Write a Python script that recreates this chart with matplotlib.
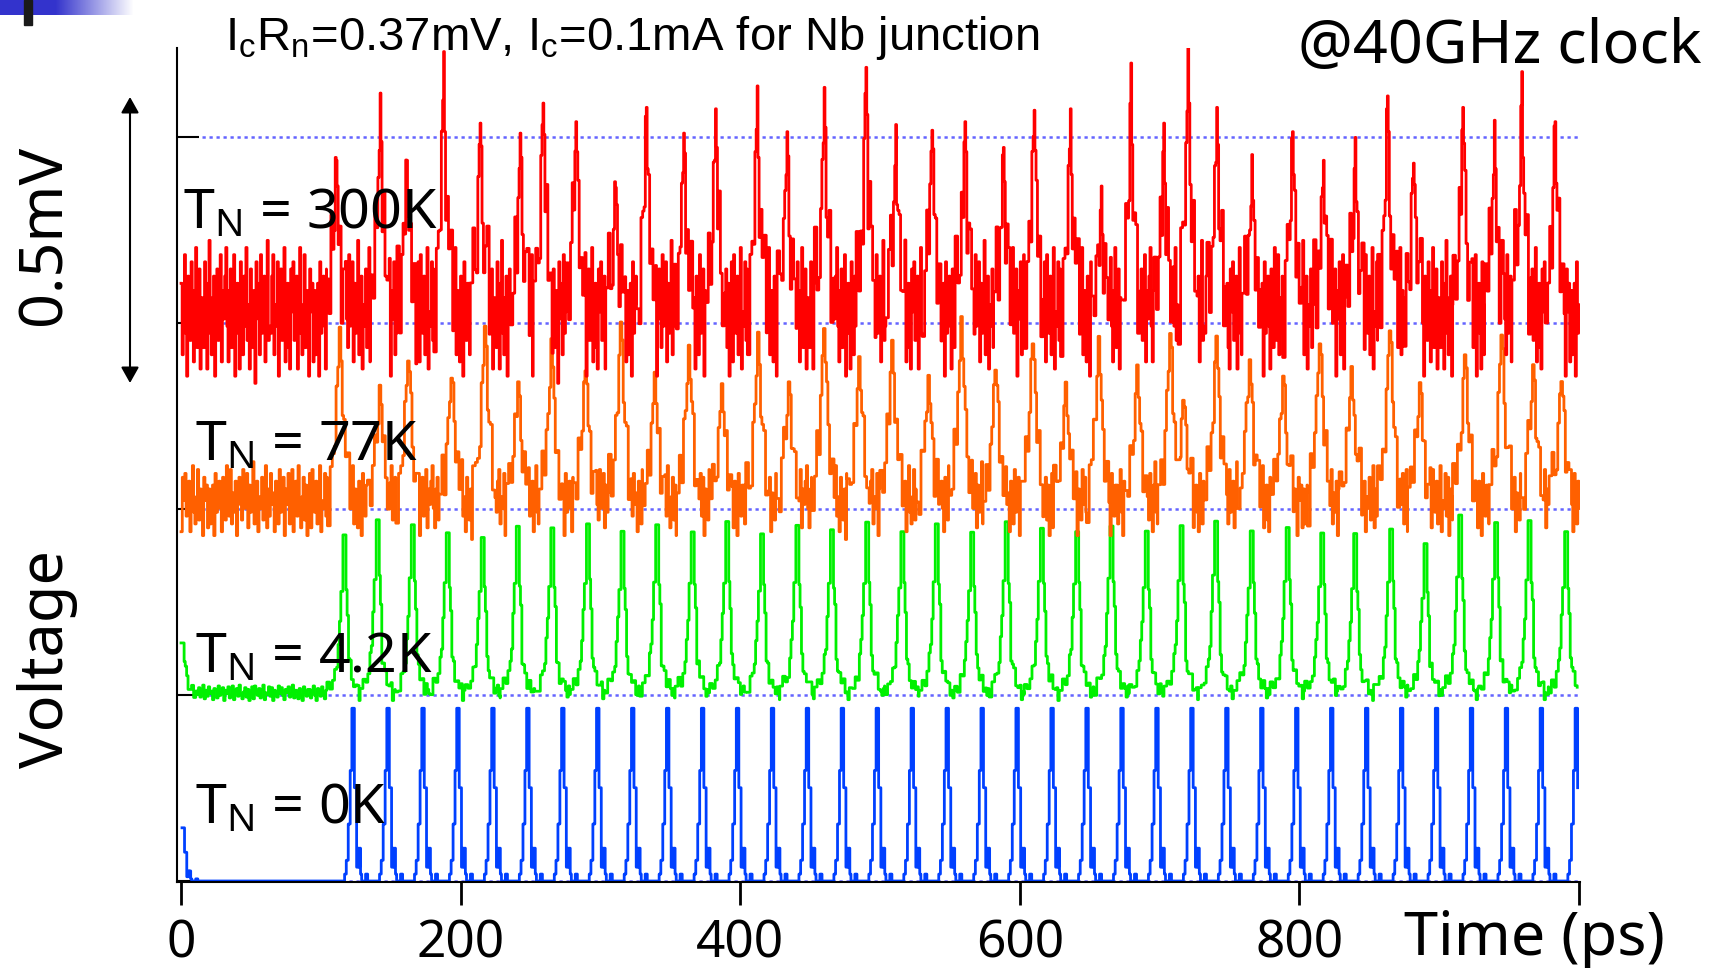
import numpy as np
import matplotlib.pyplot as plt
from matplotlib.patches import FancyArrowPatch, Rectangle

# 画像サイズ（ピクセル）
W, H = 1723, 968

# 各波形のベースライン（mV）
BASE_0K = 0.0
BASE_4K = 0.325
BASE_77K = 0.650
BASE_300K = 0.975
GRID_LEVELS = [0.0, 0.325, 0.650, 0.975, 1.300]

XTICKS = [0, 200, 400, 600, 800, 1000]
XTICK_LABELS = ['0', '200', '400', '600', '800', '']

# T_N = 0K（青）: パルスのピーク時刻(ps)と高さ(mV)
BLUE_PEAK_T = [1.5, 123, 148, 173, 198, 223, 248, 273, 298, 323, 348, 373, 398,
               423, 448, 473, 498, 523, 548, 573, 598, 623, 648, 673, 698, 723,
               748, 773, 798, 823, 848, 873, 898, 923, 948, 973, 998]
BLUE_PEAK_H = [0.093, 0.302, 0.302, 0.302, 0.302, 0.302, 0.302, 0.302, 0.302,
               0.302, 0.302, 0.302, 0.302, 0.302, 0.302, 0.302, 0.302, 0.302,
               0.302, 0.302, 0.302, 0.302, 0.302, 0.302, 0.302, 0.302, 0.302,
               0.302, 0.302, 0.302, 0.302, 0.302, 0.302, 0.302, 0.302, 0.302,
               0.302]
# パルス形状（ピークからの時間差 ps, 高さの割合）
BLUE_PULSE_DT = [-7.5, -6.0, -4.8, -3.4, -2.0, -0.8, 1.0, 2.6, 3.6, 4.2, 4.8, 5.4,
                 6.2, 9.0, 10.5]
BLUE_PULSE_FRAC = [0.0, 0.04, 0.12, 0.33, 0.64, 1.0, 0.54, 0.08, 0.19, 0.08, 0.19,
                   0.04, 0.0, 0.04, 0.0]

# T_N = 4.2K（緑）
GREEN_PEAK_T = [1.5, 117.3, 141.1, 166.2, 191.2, 216.2, 241.3, 266.0, 291.5, 316.2,
                341.0, 366.4, 391.1, 416.0, 441.3, 466.0, 491.2, 516.4, 541.0,
                566.3, 591.0, 616.2, 641.4, 666.0, 691.2, 716.1, 740.8, 766.3,
                792.0, 816.7, 840.3, 866.0, 890.6, 915.4, 941.1, 965.0, 991.2]
GREEN_PEAK_H = [0.090, 0.278, 0.305, 0.299, 0.285, 0.278, 0.294, 0.290, 0.300,
                0.284, 0.296, 0.288, 0.302, 0.281, 0.295, 0.290, 0.300, 0.286,
                0.297, 0.283, 0.301, 0.292, 0.287, 0.298, 0.284, 0.296, 0.305,
                0.287, 0.296, 0.284, 0.281, 0.293, 0.264, 0.313, 0.302, 0.303,
                0.284]
GREEN_PULSE_DT = [-13.0, -11.0, -9.0, -7.5, -6.0, -5.0, -4.0, -3.0, -1.5, 0.7, 1.5,
                  2.5, 3.5, 4.5, 6.0, 7.5, 9.0]
GREEN_PULSE_FRAC = [0.02, 0.05, 0.08, 0.12, 0.20, 0.30, 0.46, 0.66, 1.0, 0.66, 0.52,
                    0.20, 0.16, 0.10, 0.07, 0.04, 0.02]

# T_N = 77K（橙）
ORANGE_PEAK_T = [113.7, 142.3, 162.6, 193.6, 217.5, 241.3, 265.1, 289.5, 314.7,
                 339.0, 363.4, 387.0, 412.9, 434.9, 460.1, 485.2, 508.8, 534.8,
                 558.3, 582.7, 609.4, 633.0, 656.6, 684.1, 707.7, 717.0, 740.8,
                 764.6, 788.5, 814.7, 837.4, 864.8, 886.3, 918.5, 944.7, 967.3,
                 987.6]
ORANGE_PEAK_H = [0.31, 0.21, 0.27, 0.24, 0.32, 0.22, 0.29, 0.25, 0.33, 0.23, 0.28,
                 0.21, 0.30, 0.22, 0.32, 0.26, 0.29, 0.23, 0.33, 0.25, 0.30, 0.21,
                 0.29, 0.24, 0.31, 0.20, 0.30, 0.26, 0.23, 0.30, 0.24, 0.32, 0.22,
                 0.27, 0.31, 0.25, 0.23]
ORANGE_PULSE_DT = [-9.0, -7.0, -5.5, -4.0, -2.8, -1.6, -0.6, 0.6, 1.6, 2.6, 3.8, 5.2, 7.0]
ORANGE_PULSE_FRAC = [0.05, 0.14, 0.26, 0.40, 0.58, 0.80, 1.0, 0.85, 0.60, 0.42, 0.26,
                     0.14, 0.06]

# T_N = 300K（赤）
RED_PEAK_T = [111.0, 142.4, 161.4, 187.8, 213.9, 242.5, 258.9, 282.4, 310.8, 332.8,
              359.5, 382.3, 412.1, 433.4, 460.0, 489.9, 511.2, 537.1, 560.7,
              588.2, 610.2, 636.1, 658.2, 679.4, 702.9, 720.2, 740.8, 765.9,
              795.0, 817.1, 839.8, 862.9, 881.5, 916.8, 939.4, 959.0, 982.8]
RED_PEAK_H = [0.30, 0.39, 0.29, 0.46, 0.36, 0.32, 0.40, 0.36, 0.25, 0.38, 0.33,
              0.37, 0.40, 0.33, 0.41, 0.46, 0.33, 0.36, 0.36, 0.31, 0.39, 0.36,
              0.22, 0.43, 0.34, 0.48, 0.37, 0.28, 0.34, 0.28, 0.31, 0.40, 0.29,
              0.38, 0.34, 0.42, 0.36]
RED_PULSE_DT = [-7.0, -5.2, -3.8, -2.6, -1.6, -0.7, 0.0, 0.6, 1.4, 2.4, 3.5, 4.8, 6.5]
RED_PULSE_FRAC = [0.08, 0.18, 0.30, 0.42, 0.60, 0.85, 1.0, 0.75, 0.50, 0.38, 0.25,
                  0.15, 0.06]

# ノイズ（図から読んだ揺らぎの目安、単位は任意）
NOISE = [
    4, -6, 2, 8, -3, -9, 5, 1, -4, 7, -2, -7, 3, 9, -5, 0, 6, -8, 2, -1,
    -5, 7, -1, -8, 4, 10, -3, -6, 2, 5, -9, 1, 6, -4, -2, 8, -7, 3, -1, 5,
    9, -2, -7, 3, 6, -5, 0, 8, -9, 2, 4, -3, -8, 7, 1, -6, 5, -2, 9, -4,
    1, -8, 6, 2, -5, 3, -10, 7, 4, -1, -6, 8, -3, 0, 5, -7, 2, 10, -4, -2,
    -3, 5, 8, -6, 1, -2, 7, -9, 3, 6, -4, -1, 9, -7, 2, 4, -5, -8, 6, 0,
    7, -4, -1, 5, -8, 2, 9, -3, -6, 1, 8, -5, 3, -2, -9, 6, 0, 4, -7, 3,
    -6, 2, 4, -9, 7, -3, 1, 5, -2, -8, 6, 3, -5, 9, -1, -4, 8, -6, 2, -3,
    5, -9, 3, 6, -1, -5, 8, -2, 0, 7, -7, 4, -3, 2, 10, -6, -2, 5, -8, 1,
    -2, 6, -5, 1, 9, -7, 3, -4, 7, -1, 2, -8, 5, 4, -6, 8, -3, 0, 6, -9,
    3, -1, 7, -6, -3, 8, -8, 2, 5, -4, 9, -2, -7, 1, 6, -5, 4, -9, 0, 7,
    -7, 8, 1, -3, 5, -6, 4, 9, -8, 0, -2, 7, -4, 6, -9, 3, 1, -5, 8, -1,
    6, -3, -8, 4, 0, 7, -5, -1, 9, -6, 3, 2, -7, 5, -3, -9, 7, 1, -4, 4,
]


def build_trace(peak_t, peak_h, pulse_dt, pulse_frac, base, center, noise_scale,
                noise_start, dt=1.0, t_end=1000.0):
    """ピーク時刻・高さとパルス形状から波形を組み立てる"""
    xs, ys = [], []
    k = noise_start
    t = 0.0
    for p, h in zip(peak_t, peak_h):
        # パルス前のノイズ部分
        while t < p + pulse_dt[0]:
            xs.append(t)
            ys.append(base + center + NOISE[k % len(NOISE)] * noise_scale)
            k += 1
            t += dt
        # パルス部分（ピーク付近はノイズを弱める）
        for d, f in zip(pulse_dt, pulse_frac):
            tt = p + d
            if tt < 0 or tt > t_end or (xs and tt <= xs[-1]):
                continue
            xs.append(tt)
            ys.append(base + center + f * (h - center)
                      + (1 - 0.8 * f) * NOISE[k % len(NOISE)] * noise_scale)
            k += 1
        t = max(t, p + pulse_dt[-1] + dt)
    while t <= t_end:
        xs.append(t)
        ys.append(base + center + NOISE[k % len(NOISE)] * noise_scale)
        k += 1
        t += dt
    return np.array(xs), np.array(ys)


plt.rcParams['font.family'] = ['Noto Sans', 'DejaVu Sans']
plt.rcParams['mathtext.default'] = 'regular'

fig = plt.figure(figsize=(W / 100, H / 100), dpi=100)
ax = fig.add_axes([176.7 / W, 1 - 882 / H, (1580 - 176.7) / W, (882 - 47.7) / H])

# 点線の基準線
ax.hlines(GRID_LEVELS, 15, 1000, colors='#6464ff', linestyles=(0, (1.3, 1.5)),
          lw=1.8, zorder=1)

traces = [
    (BLUE_PEAK_T, BLUE_PEAK_H, BLUE_PULSE_DT, BLUE_PULSE_FRAC, BASE_0K, 0.0, 0.0, 0, 1.0, '#0040ff'),
    (GREEN_PEAK_T, GREEN_PEAK_H, GREEN_PULSE_DT, GREEN_PULSE_FRAC, BASE_4K, 0.004, 0.0015, 151, 1.0, '#00f000'),
    (ORANGE_PEAK_T, ORANGE_PEAK_H, ORANGE_PULSE_DT, ORANGE_PULSE_FRAC, BASE_77K, 0.015, 0.0068, 97, 0.9, '#ff6000'),
    (RED_PEAK_T, RED_PEAK_H, RED_PULSE_DT, RED_PULSE_FRAC, BASE_300K, 0.02, 0.0125, 0, 0.8, '#ff0000'),
]
for pt, ph, pdt, pfr, base, center, ns, n0, step, color in traces:
    x, y = build_trace(pt, ph, pdt, pfr, base, center, ns, n0, dt=step)
    ax.plot(x, y, color=color, lw=2.0, drawstyle='steps-post', zorder=2)

ax.set_xlim(-3.1, 1000.7)
ax.set_ylim(-0.00175, 1.4568)
for side in ['top', 'right']:
    ax.spines[side].set_visible(False)
for side in ['left', 'bottom']:
    ax.spines[side].set_linewidth(1.5)

ax.set_xticks(XTICKS)
ax.set_xticklabels(XTICK_LABELS, fontsize=37)
ax.tick_params(axis='x', direction='out', length=16.5, width=2.0, pad=10)
ax.set_yticks(GRID_LEVELS)
ax.tick_params(axis='y', direction='in', length=16, width=1.5, labelleft=False)

# テキスト
fig.text(225 / W, 1 - 49.5 / H,
         r'I$_\mathregular{c}$R$_\mathregular{n}$=0.37mV, I$_\mathregular{c}$=0.1mA for Nb junction',
         family='Liberation Sans', fontsize=34, va='baseline', ha='left')
fig.text(1702 / W, 1 - 63 / H, '@40GHz clock', fontsize=44, va='baseline', ha='right')
fig.text(1665 / W, 1 - 955 / H, 'Time (ps)', fontsize=44, va='baseline', ha='right')
fig.text(48 / W, 1 - 659 / H, 'Voltage', fontsize=44, rotation=90, va='center', ha='center')
fig.text(45 / W, 1 - 235 / H, '0.5mV', fontsize=44, rotation=90, va='center', ha='center')

labels = [('T$_\\mathregular{N}$ = 300K', 183, 228), ('T$_\\mathregular{N}$ = 77K', 195, 460),
          ('T$_\\mathregular{N}$ = 4.2K', 195, 672), ('T$_\\mathregular{N}$ = 0K', 195, 823)]
for s, lx, ly in labels:
    fig.text(lx / W, 1 - ly / H, s, fontsize=40, va='baseline', ha='left')

# 0.5mV の矢印
fig.add_artist(FancyArrowPatch((130 / W, 1 - 97 / H), (130 / W, 1 - 383 / H),
                               transform=fig.transFigure,
                               arrowstyle='<|-|>,head_length=0.8,head_width=0.45',
                               mutation_scale=12, lw=1.5, color='k',
                               shrinkA=0, shrinkB=0))

# 左上の飾り（スライドの箇条書き記号）
grad = np.ones((1, 133, 3))
solid = np.array([51, 51, 204]) / 255
for i in range(133):
    w = 0.0 if i < 55 else (i - 55) / 78
    grad[0, i] = solid * (1 - w) + w
bax = fig.add_axes([0, 1 - 15 / H, 133 / W, 15 / H])
bax.imshow(grad, aspect='auto', extent=(0, 1, 0, 1))
bax.axis('off')
fig.add_artist(Rectangle((24 / W, 1 - 25 / H), 8 / W, 25 / H,
                         transform=fig.transFigure, color='#1a1a1a'))

fig.savefig('out.png', dpi=100)
